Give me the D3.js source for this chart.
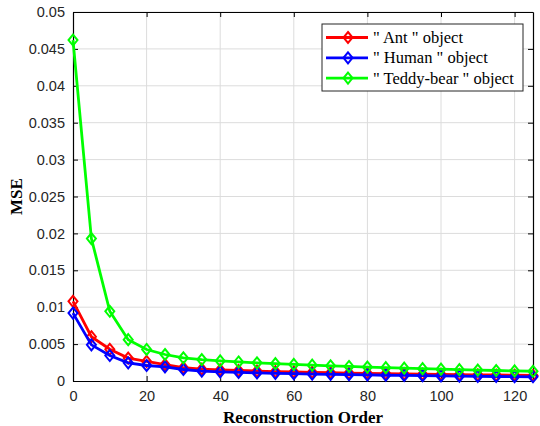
<!DOCTYPE html>
<html>
<head>
<meta charset="utf-8">
<title>MSE vs Reconstruction Order</title>
<script src="https://d3js.org/d3.v7.min.js"></script>
<style>
	body { margin: 0; background: #fff; }
	.tick text { font-family: "Liberation Sans", Arial, sans-serif; font-size: 14.5px; fill: #262626; }
	.title { font-family: "Liberation Serif", "Times New Roman", serif; font-weight: bold; font-size: 17px; }
	.legend text { font-family: "Liberation Serif", "Times New Roman", serif; font-size: 16.5px; fill: #000; }
</style>
</head>
<body>
<svg id="chart" width="540" height="426"></svg>
<script>
	// reconstruction orders 0..125 step 5
	var orders = [0, 5, 10, 15, 20, 25, 30, 35, 40, 45, 50, 55, 60, 65, 70, 75, 80, 85, 90, 95, 100, 105, 110, 115, 120, 125];

	var antMse = [0.0108, 0.0060, 0.0043, 0.0031, 0.00265, 0.00222, 0.0018, 0.0016, 0.0015, 0.00142, 0.00135, 0.00128, 0.00122,
		0.00117, 0.00112, 0.00108, 0.00104, 0.001, 0.00096, 0.00093, 0.0009, 0.00087, 0.00084, 0.00081, 0.00078, 0.00075];
	var humanMse = [0.0092, 0.0049, 0.00345, 0.00246, 0.0021, 0.00192, 0.00156, 0.00134, 0.00124, 0.00116, 0.0011, 0.00104, 0.00099,
		0.00094, 0.0009, 0.00086, 0.00082, 0.00078, 0.00075, 0.00072, 0.00069, 0.00066, 0.00063, 0.00061, 0.00059, 0.00057];
	var teddyMse = [0.0462, 0.0193, 0.00945, 0.0056, 0.00427, 0.00359, 0.00314, 0.0029, 0.00272, 0.00258, 0.00246, 0.00235, 0.00225,
		0.00215, 0.00206, 0.00197, 0.00189, 0.00181, 0.00174, 0.00167, 0.0016, 0.00154, 0.00148, 0.00142, 0.00137, 0.00132];

	var seriesNames = ['" Ant " object', '" Human " object', '" Teddy-bear " object'];
	var seriesColors = ["#ff0000", "#0000ff", "#00ff00"];
	var xTicks = [0, 20, 40, 60, 80, 100, 120];
	var yTicks = [0, 0.005, 0.01, 0.015, 0.02, 0.025, 0.03, 0.035, 0.04, 0.045, 0.05];

	var margin = { top: 12, right: 7, bottom: 45, left: 73 };
	var svg = d3.select("#chart");
	var width = +svg.attr("width") - margin.left - margin.right,
		height = +svg.attr("height") - margin.top - margin.bottom;
	var g = svg.append("g").attr("transform", "translate(" + margin.left + "," + margin.top + ")");

	var x = d3.scaleLinear().domain([0, 125]).range([0, width]);
	var y = d3.scaleLinear().domain([0, 0.05]).range([height, 0]);

	// grid
	g.append("g").selectAll("line").data(xTicks.slice(1)).enter().append("line")
		.attr("x1", function (d) { return x(d); }).attr("x2", function (d) { return x(d); })
		.attr("y1", 0).attr("y2", height)
		.attr("stroke", "#dcdcdc").attr("stroke-width", 1);
	g.append("g").selectAll("line").data(yTicks.slice(1)).enter().append("line")
		.attr("y1", function (d) { return y(d); }).attr("y2", function (d) { return y(d); })
		.attr("x1", 0).attr("x2", width)
		.attr("stroke", "#dcdcdc").attr("stroke-width", 1);

	var fmt = function (d) { return d === 0 ? "0" : String(+d.toFixed(3)); };

	g.append("g").attr("transform", "translate(0," + height + ")")
		.call(d3.axisBottom(x).tickValues(xTicks).tickSizeInner(-5).tickSizeOuter(0).tickPadding(10));
	g.append("g")
		.call(d3.axisLeft(y).tickValues(yTicks).tickFormat(fmt).tickSizeInner(-5).tickSizeOuter(0).tickPadding(8));
	g.append("g")
		.call(d3.axisTop(x).tickValues(xTicks).tickFormat("").tickSizeInner(-5).tickSizeOuter(0));
	g.append("g").attr("transform", "translate(" + width + ",0)")
		.call(d3.axisRight(y).tickValues(yTicks).tickFormat("").tickSizeInner(-5).tickSizeOuter(0));
	g.selectAll(".domain").attr("stroke", "#000").attr("stroke-width", 1.2);
	g.selectAll(".tick line").attr("stroke", "#000");

	// series
	var allSeries = [antMse, humanMse, teddyMse];
	var line = d3.line()
		.x(function (d, i) { return x(orders[i]); })
		.y(function (d) { return y(d); });
	var diamond = "M0,-5.5L4.5,0L0,5.5L-4.5,0Z";

	allSeries.forEach(function (vals, k) {
		var s = g.append("g");
		s.append("path").datum(vals).attr("d", line)
			.attr("fill", "none").attr("stroke", seriesColors[k]).attr("stroke-width", 2.8);
		s.selectAll("path.mk").data(vals).enter().append("path").attr("class", "mk")
			.attr("transform", function (d, i) { return "translate(" + x(orders[i]) + "," + y(d) + ")"; })
			.attr("d", diamond)
			.attr("fill", "none").attr("stroke", seriesColors[k]).attr("stroke-width", 2);
	});

	// axis titles
	svg.append("text").attr("class", "title")
		.attr("x", margin.left + width / 2).attr("y", 423)
		.attr("text-anchor", "middle").text("Reconstruction Order");
	svg.append("text").attr("class", "title")
		.attr("transform", "translate(22," + (margin.top + height / 2) + ") rotate(-90)")
		.attr("text-anchor", "middle").text("MSE");

	// legend
	var lg = svg.append("g").attr("class", "legend").attr("transform", "translate(322,24)");
	lg.append("rect").attr("width", 201).attr("height", 67)
		.attr("fill", "#fff").attr("stroke", "#262626").attr("stroke-width", 1);
	seriesNames.forEach(function (name, k) {
		var yy = 13.5 + k * 20.3;
		lg.append("line").attr("x1", 4).attr("x2", 46).attr("y1", yy).attr("y2", yy)
			.attr("stroke", seriesColors[k]).attr("stroke-width", 2.8);
		lg.append("path").attr("d", diamond).attr("transform", "translate(26," + yy + ")")
			.attr("fill", "none").attr("stroke", seriesColors[k]).attr("stroke-width", 2);
		lg.append("text").attr("x", 51).attr("y", yy + 5.5).text(name);
	});
</script>
</body>
</html>
